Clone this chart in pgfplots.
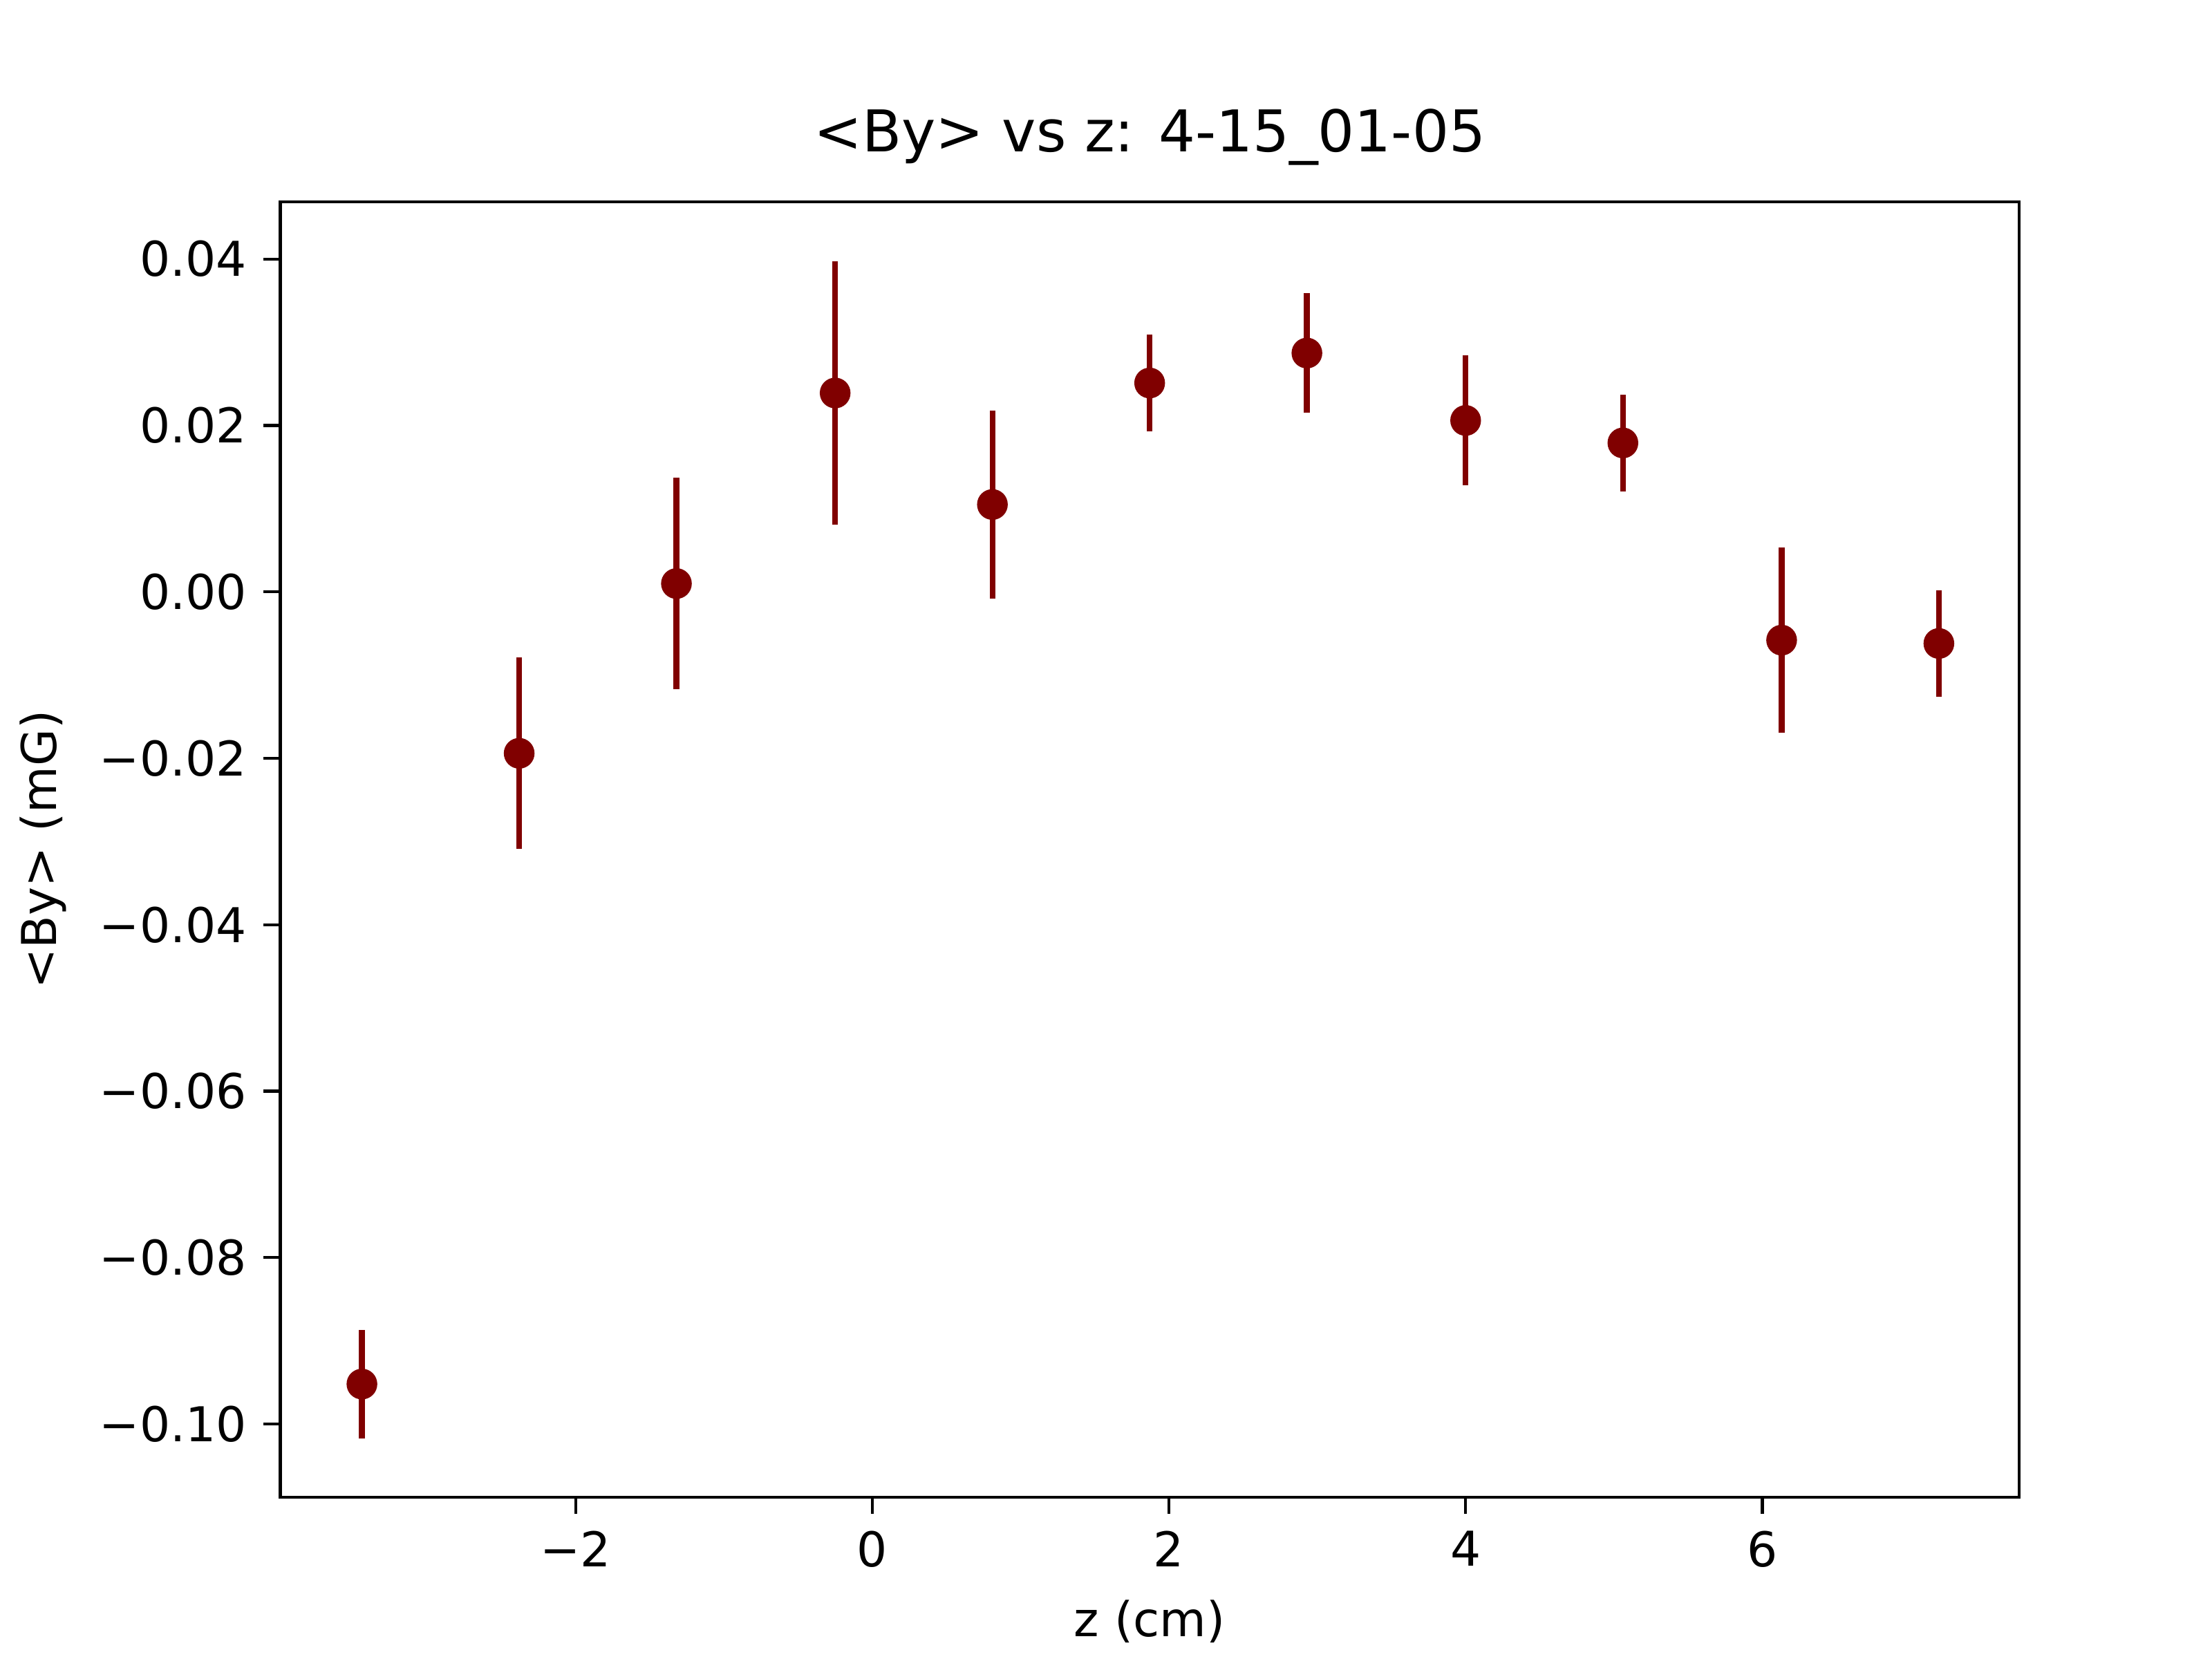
\documentclass[border=0pt]{standalone}
\usepackage{pgfplots}
\pgfplotsset{compat=1.18}
\usepackage{fontspec}
\setmainfont{DejaVu Sans}
\definecolor{dr}{HTML}{800000}
\begin{document}
\begin{tikzpicture}
\path[use as bounding box] (-58.4pt,-33.7pt) rectangle (402.4pt,311.9pt);
\begin{axis}[at={(0,0)},anchor=south west,scale only axis,width=362.2pt,height=269.9pt,
xmin=-3.99,xmax=7.73,ymin=-0.1088,ymax=0.0469,
xtick={-2,0,2,4,6},xticklabels={−2,0,2,4,6},
ytick={-0.10,-0.08,-0.06,-0.04,-0.02,0,0.02,0.04},
yticklabels={−0.10,−0.08,−0.06,−0.04,−0.02,0.00,0.02,0.04},
tick align=outside,tick style={black,line width=0.6pt},major tick length=3.5pt,
xtick pos=bottom,ytick pos=left,
ticklabel style={font=\fontsize{10}{12}\selectfont},
title style={yshift=-2pt},
title={\fontsize{12}{14}\selectfont <By> vs z: 4-15\_01-05},
xlabel={z (cm)},ylabel={<By> (mG)},
label style={font=\fontsize{10}{12}\selectfont},
axis line style={line width=0.6pt}]
\addplot[only marks,mark=*,mark size=3pt,color=dr,
error bars/.cd,y dir=both,y explicit,error bar style={line width=1.2pt,color=dr},error mark=none]
coordinates {
(-3.44,-0.0952) +- (0,0.0065)
(-2.38,-0.0194) +- (0,0.0115)
(-1.32,0.0010) +- (0,0.0127)
(-0.25,0.0239) +- (0,0.0158)
(0.81,0.0105) +- (0,0.0113)
(1.87,0.0251) +- (0,0.0058)
(2.93,0.0287) +- (0,0.0072)
(4.00,0.0206) +- (0,0.0078)
(5.06,0.0179) +- (0,0.0058)
(6.13,-0.0058) +- (0,0.0111)
(7.19,-0.0062) +- (0,0.0064)
};
\end{axis}
\end{tikzpicture}
\end{document}
